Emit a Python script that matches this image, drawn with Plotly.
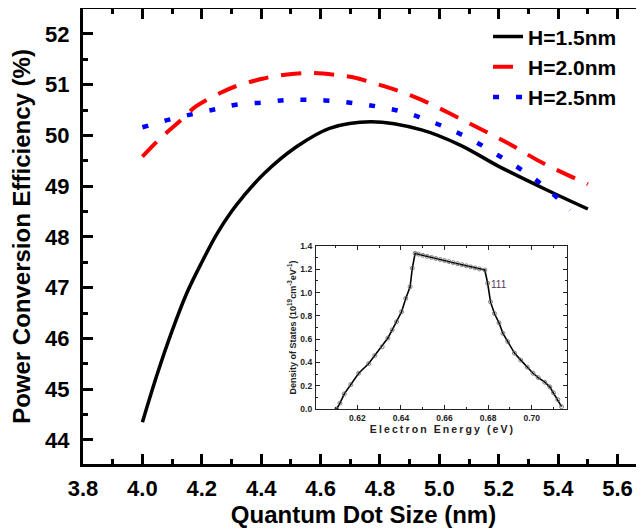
import plotly.graph_objects as go

# ---- main chart data ----
x_h15 = [4.0, 4.05, 4.1, 4.15, 4.2, 4.25, 4.3, 4.34, 4.41, 4.52, 4.63, 4.77, 4.94, 5.07, 5.2, 5.36, 5.5]
y_h15 = [44.35, 45.3, 46.15, 46.9, 47.5, 48.05, 48.5, 48.8, 49.25, 49.78, 50.14, 50.27, 50.11, 49.81, 49.39, 48.93, 48.55]

x_h20 = [4.0, 4.06, 4.13, 4.18, 4.26, 4.32, 4.40, 4.45, 4.56, 4.655, 4.72, 4.79, 4.85, 4.94, 5.09, 5.23, 5.35, 5.5]
y_h20 = [49.58, 49.94, 50.3, 50.57, 50.83, 50.98, 51.11, 51.17, 51.23, 51.19, 51.13, 51.01, 50.9, 50.7, 50.27, 49.85, 49.45, 49.04]

x_h25 = [4.0, 4.09, 4.17, 4.25, 4.32, 4.41, 4.49, 4.56, 4.64, 4.72, 4.8, 4.88, 4.96, 5.04, 5.12, 5.2, 5.28, 5.36, 5.44]
y_h25 = [50.16, 50.31, 50.42, 50.52, 50.61, 50.65, 50.70, 50.70, 50.68, 50.63, 50.56, 50.46, 50.30, 50.11, 49.88, 49.6, 49.31, 48.96, 48.53]

series_names = ["H=1.5nm", "H=2.0nm", "H=2.5nm"]

# ---- inset data (density of states) ----
e_energy = [0.6105, 0.612, 0.614, 0.617, 0.6206, 0.6252, 0.628, 0.6314, 0.634, 0.636, 0.638,
            0.6403, 0.6422, 0.6442, 0.6452, 0.6465, 0.648, 0.650, 0.652, 0.654, 0.656, 0.658,
            0.660, 0.662, 0.664, 0.666, 0.668, 0.670, 0.672, 0.674, 0.676, 0.6785, 0.6798,
            0.6811, 0.6829, 0.685, 0.6868, 0.689, 0.6921, 0.695, 0.698, 0.7006, 0.703, 0.706,
            0.7083, 0.710, 0.712, 0.7137]
dos = [0.0, 0.05, 0.13, 0.21, 0.307, 0.39, 0.46, 0.535, 0.61, 0.68, 0.75,
       0.836, 0.95, 1.05, 1.209, 1.337, 1.33, 1.32, 1.311, 1.302, 1.293, 1.284,
       1.275, 1.266, 1.257, 1.248, 1.239, 1.23, 1.221, 1.212, 1.203, 1.194, 1.08,
       0.92, 0.82, 0.74, 0.65, 0.58, 0.48, 0.42, 0.36, 0.307, 0.27, 0.23,
       0.19, 0.14, 0.08, 0.02]
inset_label = "111"
inset_xtitle = "Electron Energy (eV)"

FONT = "Liberation Sans, Arial, sans-serif"
THIN = "\u2009"


def spaced(s):
    # the inset title is set with wide letter spacing in the original
    return THIN.join(s)


fig = go.Figure()
fig.add_trace(go.Scatter(x=x_h15, y=y_h15, mode="lines", name=series_names[0],
                         line=dict(color="#000000", width=3.5, shape="spline")))
fig.add_trace(go.Scatter(x=x_h20, y=y_h20, mode="lines", name=series_names[1],
                         line=dict(color="#FF0000", width=4, dash="20px,13px", shape="spline")))
fig.add_trace(go.Scatter(x=x_h25, y=y_h25, mode="lines", name=series_names[2],
                         line=dict(color="#0000FF", width=4.5, dash="6px,17px", shape="spline")))
fig.add_trace(go.Scatter(x=e_energy, y=dos, mode="lines+markers", xaxis="x2", yaxis="y3",
                         showlegend=False,
                         line=dict(color="#000000", width=1.6),
                         marker=dict(symbol="circle-open", size=4, color="#666666",
                                     line=dict(width=0.8, color="#666666"))))

fig.add_annotation(x=0.6802, y=1.07, xref="x2", yref="y3", text=inset_label,
                   showarrow=False, xanchor="left", yanchor="middle",
                   font=dict(family=FONT, size=10, color="#553355"))

axis_font = dict(family=FONT, size=22, color="black", weight="bold")

# The page places the figure 8px in from the top-left corner, so the
# figure is sized to fill the remaining 636x523 of the 644x531 window.
fig.update_layout(
    width=636, height=523,
    margin=dict(l=75, r=0, t=1, b=67),
    paper_bgcolor="white", plot_bgcolor="white",
    showlegend=True,
    legend=dict(x=0.722, y=0.984, xanchor="left", yanchor="top",
                bgcolor="rgba(0,0,0,0)", tracegroupgap=0,
                font=dict(family=FONT, size=21, color="black", weight="bold")),
    xaxis=dict(range=[3.8, 5.689], tick0=3.8, dtick=0.2, tickformat=".1f",
               showgrid=False, zeroline=False, automargin=False,
               showline=True, linecolor="black", linewidth=3, mirror="ticks",
               ticks="inside", ticklen=10, tickwidth=2.5, tickcolor="black",
               minor=dict(dtick=0.1, ticks="inside", ticklen=5, tickwidth=2.5, tickcolor="black"),
               tickfont=axis_font, ticklabelstandoff=3,
               title=dict(text="Quantum Dot Size (nm)", standoff=6,
                          font=dict(family=FONT, size=24, color="black", weight="bold"))),
    yaxis=dict(range=[43.527, 52.49], tick0=44, dtick=1,
               showgrid=False, zeroline=False, automargin=False,
               showline=True, linecolor="black", linewidth=3, mirror=False,
               ticks="inside", ticklen=10, tickwidth=2.5, tickcolor="black",
               minor=dict(dtick=0.5, ticks="inside", ticklen=5, tickwidth=2.5, tickcolor="black"),
               tickfont=axis_font, ticklabelstandoff=6,
               title=dict(text="Power Conversion Efficiency (%)", standoff=10,
                          font=dict(family=FONT, size=24, color="black", weight="bold"))),
    yaxis2=dict(overlaying="y", side="right", range=[43.527, 52.49], tick0=44, dtick=1,
                showgrid=False, zeroline=False, showline=False, showticklabels=False,
                automargin=False,
                ticks="inside", ticklen=7, tickwidth=2.5, tickcolor="black",
                minor=dict(dtick=0.5, ticks="inside", ticklen=4, tickwidth=2.5, tickcolor="black")),
    xaxis2=dict(domain=[0.4153, 0.8627], anchor="y3", range=[0.601, 0.7162],
                tick0=0.6, dtick=0.02, tickformat=".2f",
                showgrid=False, zeroline=False, automargin=False,
                showline=True, linecolor="#222222", linewidth=1.2, mirror="ticks",
                ticks="inside", ticklen=4, tickwidth=1, tickcolor="#222222",
                minor=dict(dtick=0.01, ticks="inside", ticklen=2, tickwidth=1, tickcolor="#222222"),
                tickfont=dict(family=FONT, size=8.5, color="#222222", weight="bold"),
                ticklabelstandoff=1,
                title=dict(text=spaced(inset_xtitle), standoff=2,
                           font=dict(family=FONT, size=10.5, color="#222222", weight="bold"))),
    yaxis3=dict(domain=[0.1209, 0.4791], anchor="x2", range=[0, 1.4],
                tick0=0, dtick=0.2, tickformat=".1f",
                showgrid=False, zeroline=False, automargin=False,
                showline=True, linecolor="#222222", linewidth=1.2, mirror="ticks",
                ticks="inside", ticklen=4, tickwidth=1, tickcolor="#222222",
                minor=dict(dtick=0.1, ticks="inside", ticklen=2, tickwidth=1, tickcolor="#222222"),
                tickfont=dict(family=FONT, size=8.5, color="#222222", weight="bold"),
                ticklabelstandoff=1,
                title=dict(text="Density of States (10<sup>19</sup>cm<sup>-3</sup>eV<sup>-1</sup>)",
                           standoff=2,
                           font=dict(family=FONT, size=9, color="#222222", weight="bold"))),
)

fig.write_html("out.html")
